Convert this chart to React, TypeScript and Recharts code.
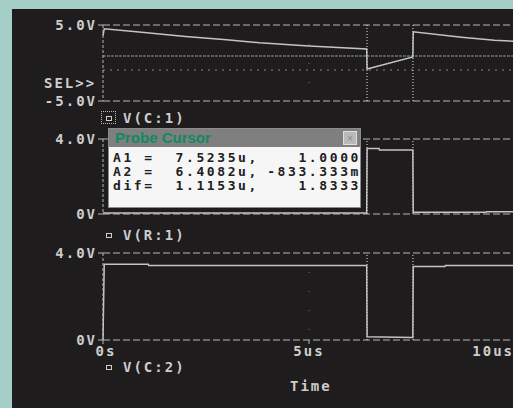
import { LineChart, Line, XAxis, YAxis, CartesianGrid, ReferenceLine } from 'recharts';

// cursor positions (us)
const cursorA1 = 7.5235;
const cursorA2 = 6.4082;

const timeTicks = [0, 5, 10];
const timeLabels = ['0s', '5us', '10us'];

// top plot (SEL>>)
const t1 = [0, 0.03, 1, 2, 3, 3.8, 5, 6.4, 6.41, 7.52, 7.53, 8.7, 9.5, 10];
const v1 = [3.6, 4.5, 4.0, 3.5, 3.05, 2.65, 2.25, 1.85, -0.8, 0.8, 4.1, 3.4, 3.0, 2.85];
const selHi = 0.92;
const selLo = -0.92;
const ticks1 = [-5, 5];

// middle plot
const t2 = [0, 6.4, 6.41, 6.7, 6.71, 7.52, 7.53, 9.3, 9.31, 10];
const v2 = [0.05, 0.05, 3.5, 3.5, 3.42, 3.42, 0.1, 0.1, 0.12, 0.12];
const ticks2 = [0, 4];

// bottom plot
const t3 = [0, 0.03, 1.1, 1.11, 6.4, 6.41, 7.52, 7.53, 8.3, 8.31, 10];
const v3 = [0, 3.48, 3.48, 3.43, 3.43, 0.15, 0.12, 3.38, 3.38, 3.43, 3.43];
const ticks3 = [0, 4];

const font = '"DejaVu Sans Mono", "Liberation Mono", monospace';
const ink = '#cdcdcd';
const trace = '#c4c4c4';
const grid = '#b8b8b8';

const toRows = (t: number[], v: number[]) => t.map((x, i) => ({ t: x, v: v[i] }));

const voltLabel = (v: number) => (v === 0 ? '0V' : `${v.toFixed(1)}V`);

const YTick = ({ x, y, payload }: any) => (
  <text x={x + 2} y={y} dy={5} textAnchor="end" fill={ink} fontFamily={font} fontSize={14} fontWeight="bold" letterSpacing={2}>
    {voltLabel(payload.value)}
  </text>
);

const XTick = ({ x, y, payload, index }: any) => {
  const last = index === timeTicks.length - 1;
  return (
    <text x={last ? x - 1 : x + (index === 0 ? 3 : 0)} y={y} dy={10} textAnchor={last ? 'end' : 'middle'} fill={ink} fontFamily={font} fontSize={14} fontWeight="bold" letterSpacing={2}>
      {timeLabels[timeTicks.indexOf(payload.value)]}
    </text>
  );
};

interface PlotProps {
  top: number;
  plotHeight: number;
  data: { t: number; v: number }[];
  domain: [number, number];
  ticks: number[];
  showTime?: boolean;
  children?: any;
}

const Plot = ({ top, plotHeight, data, domain, ticks, showTime, children }: PlotProps) => {
  const xh = showTime ? 30 : 0;
  return (
    <div style={{ position: 'absolute', left: 0, top: top - 10 }}>
      <LineChart width={515} height={plotHeight + 20 + xh} data={data} margin={{ top: 10, right: 0, bottom: showTime ? 0 : 10, left: 0 }}>
        <CartesianGrid vertical={false} stroke={grid} strokeDasharray="7 3" />
        <CartesianGrid horizontal={false} verticalPoints={[309]} stroke="#777" strokeDasharray="1 18" />
        <XAxis
          type="number"
          dataKey="t"
          domain={[0, 10]}
          ticks={timeTicks}
          hide={!showTime}
          height={xh}
          axisLine={false}
          tickLine={{ stroke: grid }}
          tickSize={4}
          tickMargin={2}
          tick={<XTick />}
          interval={0}
        />
        <YAxis
          type="number"
          domain={domain}
          ticks={ticks}
          width={103}
          axisLine={{ stroke: grid, strokeDasharray: '3 2' }}
          tickLine={{ stroke: grid }}
          tickSize={5}
          tickMargin={3}
          tick={<YTick />}
          interval={0}
        />
        {children}
        <ReferenceLine x={cursorA2} stroke="#e6e6e6" strokeDasharray="1 2" />
        <ReferenceLine x={cursorA1} stroke="#e6e6e6" strokeDasharray="1 2" />
        <Line type="linear" dataKey="v" stroke={trace} strokeWidth={1.5} dot={false} isAnimationActive={false} />
      </LineChart>
    </div>
  );
};

const label = (left: number, top: number, text: string) => (
  <div
    style={{
      position: 'absolute',
      left,
      top,
      color: ink,
      fontFamily: font,
      fontSize: 14,
      fontWeight: 'bold',
      letterSpacing: 2,
      lineHeight: '16px',
      whiteSpace: 'pre',
    }}
  >
    {text}
  </div>
);

const marker = (left: number, top: number, selected?: boolean) => (
  <div style={{ position: 'absolute', left, top }}>
    {selected && (
      <div style={{ position: 'absolute', left: -5, top: -5, width: 13, height: 11, border: '1px dotted #bbb' }} />
    )}
    <div style={{ position: 'absolute', left: 0, top: 0, width: 4, height: 3, border: `1px solid ${ink}` }} />
  </div>
);

const rowStyle = {
  position: 'relative' as const,
  height: 14,
  fontFamily: font,
  fontSize: 13,
  fontWeight: 'bold' as const,
  letterSpacing: 2.6,
  lineHeight: '14px',
  color: '#202020',
  whiteSpace: 'pre' as const,
};

const cursorRows = [
  ['A1 =  ', '7.5235u,', '1.0000'],
  ['A2 =  ', '6.4082u,', '-833.333m'],
  ['dif=  ', '1.1153u,', '1.8333'],
];

export default function App() {
  return (
    <div style={{ position: 'absolute', left: 0, top: 0, width: 513, height: 408, overflow: 'hidden', background: '#a4cec6' }}>
      <div style={{ position: 'absolute', left: 12, top: 9, width: 520, height: 420, background: '#1e1c1d' }} />

      <Plot top={25} plotHeight={76} data={toRows(t1, v1)} domain={[-5, 5]} ticks={ticks1}>
        <ReferenceLine y={selHi} stroke="#9a9a9a" strokeDasharray="3 1" />
        <ReferenceLine y={selLo} stroke="#8a8a8a" strokeDasharray="2 5" />
      </Plot>
      <Plot top={139} plotHeight={75} data={toRows(t2, v2)} domain={[0, 4]} ticks={ticks2} />
      <Plot top={253} plotHeight={77} data={toRows(t3, v3)} domain={[0, 4]} ticks={ticks3} showTime />

      {label(44, 75, 'SEL>>')}
      {marker(106, 116, true)}
      {label(123, 110, 'V(C:1)')}
      {marker(106, 233)}
      {label(123, 227, 'V(R:1)')}
      {marker(106, 365)}
      {label(123, 359, 'V(C:2)')}
      {label(290, 378, 'Time')}

      <div style={{ position: 'absolute', left: 108, top: 128, width: 251, height: 78, border: '1px solid #8c8c8c', background: '#f6f6f6' }}>
        <div style={{ position: 'relative', height: 18, background: '#7f7f7f' }}>
          <span style={{ position: 'absolute', left: 6, top: 0, fontFamily: 'Arial, "Liberation Sans", sans-serif', fontWeight: 'bold', fontSize: 15, lineHeight: '18px', color: '#108a62' }}>
            Probe Cursor
          </span>
          <div style={{ position: 'absolute', right: 3, top: 2, width: 12, height: 12, background: '#b9b9b9', border: '1px solid #dedede', color: '#8a8a8a', fontSize: 11, lineHeight: '12px', textAlign: 'center', fontFamily: 'Arial, sans-serif' }}>
            ×
          </div>
        </div>
        <div style={{ paddingTop: 4 }}>
          {cursorRows.map((r) => (
            <div key={r[0]} style={rowStyle}>
              <span style={{ position: 'absolute', left: 4 }}>{r[0] + r[1]}</span>
              <span style={{ position: 'absolute', right: -1 }}>{r[2]}</span>
            </div>
          ))}
        </div>
      </div>
    </div>
  );
}
